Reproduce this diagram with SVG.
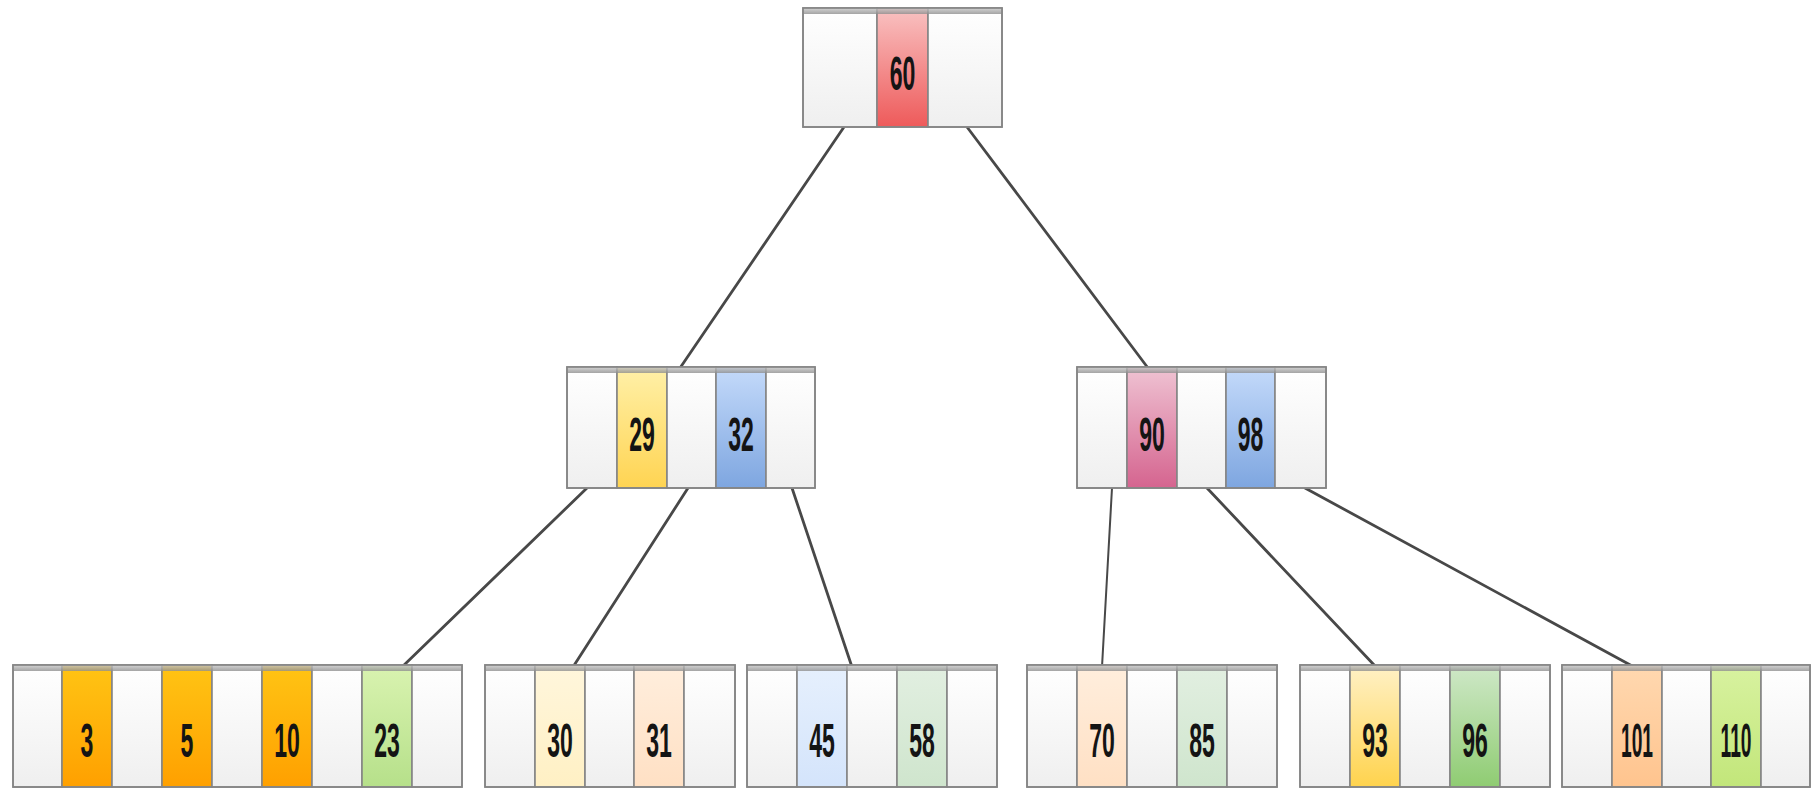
<svg xmlns="http://www.w3.org/2000/svg" width="1813" height="791" viewBox="0 0 1813 791">
  <defs>
    <linearGradient id="gEmpty" x1="0" y1="0" x2="0" y2="1">
      <stop offset="0" stop-color="#ffffff"/>
      <stop offset="1" stop-color="#efefef"/>
    </linearGradient>
    <linearGradient id="gBand" x1="0" y1="0" x2="0" y2="1">
      <stop offset="0" stop-color="#c8c8c8"/>
      <stop offset="1" stop-color="#8e8e8e"/>
    </linearGradient>
    <linearGradient id="gRed" x1="0" y1="0" x2="0" y2="1">
      <stop offset="0" stop-color="#f9c2c2"/>
      <stop offset="1" stop-color="#ee5a5a"/>
    </linearGradient>
    <linearGradient id="gGold" x1="0" y1="0" x2="0" y2="1">
      <stop offset="0" stop-color="#fff0a8"/>
      <stop offset="1" stop-color="#ffd452"/>
    </linearGradient>
    <linearGradient id="gBlue" x1="0" y1="0" x2="0" y2="1">
      <stop offset="0" stop-color="#c4dafa"/>
      <stop offset="1" stop-color="#7ea6e0"/>
    </linearGradient>
    <linearGradient id="gMauve" x1="0" y1="0" x2="0" y2="1">
      <stop offset="0" stop-color="#efc3d3"/>
      <stop offset="1" stop-color="#d5648f"/>
    </linearGradient>
    <linearGradient id="gOrange" x1="0" y1="0" x2="0" y2="1">
      <stop offset="0" stop-color="#ffc414"/>
      <stop offset="1" stop-color="#ffa000"/>
    </linearGradient>
    <linearGradient id="gLime" x1="0" y1="0" x2="0" y2="1">
      <stop offset="0" stop-color="#d9f3b0"/>
      <stop offset="1" stop-color="#b6e08a"/>
    </linearGradient>
    <linearGradient id="gPaleYellow" x1="0" y1="0" x2="0" y2="1">
      <stop offset="0" stop-color="#fff6dc"/>
      <stop offset="1" stop-color="#fff0c4"/>
    </linearGradient>
    <linearGradient id="gPalePeach" x1="0" y1="0" x2="0" y2="1">
      <stop offset="0" stop-color="#ffeedd"/>
      <stop offset="1" stop-color="#ffe0c4"/>
    </linearGradient>
    <linearGradient id="gPaleBlue" x1="0" y1="0" x2="0" y2="1">
      <stop offset="0" stop-color="#e6f0fd"/>
      <stop offset="1" stop-color="#d4e4fb"/>
    </linearGradient>
    <linearGradient id="gPaleGreen" x1="0" y1="0" x2="0" y2="1">
      <stop offset="0" stop-color="#e2efe1"/>
      <stop offset="1" stop-color="#cfe5cd"/>
    </linearGradient>
    <linearGradient id="gYellow" x1="0" y1="0" x2="0" y2="1">
      <stop offset="0" stop-color="#fff1c6"/>
      <stop offset="1" stop-color="#ffd34d"/>
    </linearGradient>
    <linearGradient id="gGreen" x1="0" y1="0" x2="0" y2="1">
      <stop offset="0" stop-color="#cfe8c8"/>
      <stop offset="1" stop-color="#8fcc72"/>
    </linearGradient>
    <linearGradient id="gApricot" x1="0" y1="0" x2="0" y2="1">
      <stop offset="0" stop-color="#ffd8b0"/>
      <stop offset="1" stop-color="#ffc48e"/>
    </linearGradient>
    <linearGradient id="gChartreuse" x1="0" y1="0" x2="0" y2="1">
      <stop offset="0" stop-color="#d8f2a0"/>
      <stop offset="1" stop-color="#c2e67a"/>
    </linearGradient>
  </defs>
  <style>
    .cell { stroke: #858585; stroke-width: 1.6; }
    .empty { fill: url(#gEmpty); }
    .band { fill: url(#gBand); opacity: 0.8; }
    .frame { fill: none; stroke: #858585; stroke-width: 1.6; }
    .key { font-family: "Liberation Sans", Arial, sans-serif; font-weight: bold; font-size: 48px; fill: #141414; text-anchor: middle; }
    .edge { stroke: #484848; stroke-width: 2.8; fill: none; stroke-linecap: round; }
  </style>

  <rect width="1813" height="791" fill="#ffffff"/>

  <!-- tree edges -->
  <g id="connectors">
    <line class="edge" x1="844" y1="127" x2="680" y2="368"/>
    <line class="edge" x1="967" y1="127" x2="1148" y2="368"/>
    <line class="edge" x1="587" y1="488" x2="402" y2="667"/>
    <line class="edge" x1="688" y1="488" x2="573" y2="667"/>
    <line class="edge" x1="792" y1="488" x2="852" y2="667"/>
    <line class="edge" x1="1112" y1="488" x2="1102" y2="667" style="stroke-width:2"/>
    <line class="edge" x1="1207" y1="488" x2="1376" y2="667"/>
    <line class="edge" x1="1305" y1="488" x2="1634" y2="667"/>
  </g>

  <!-- root -->
  <g id="node-60">
    <rect class="cell empty" x="803" y="8" width="74" height="119"/>
    <rect class="cell" fill="url(#gRed)" x="877" y="8" width="51" height="119"/>
    <rect class="cell empty" x="928" y="8" width="74" height="119"/>
    <rect class="band" x="803" y="8" width="199" height="6"/>
    <rect class="frame" x="803" y="8" width="199" height="119"/>
    <text class="key" transform="translate(902.5,90) scale(0.48,1)">60</text>
  </g>

  <!-- inner nodes -->
  <g id="node-29-32">
    <rect class="cell empty" x="567" y="367" width="50" height="121"/>
    <rect class="cell" fill="url(#gGold)" x="617" y="367" width="50" height="121"/>
    <rect class="cell empty" x="667" y="367" width="49" height="121"/>
    <rect class="cell" fill="url(#gBlue)" x="716" y="367" width="50" height="121"/>
    <rect class="cell empty" x="766" y="367" width="49" height="121"/>
    <rect class="band" x="567" y="367" width="248" height="6"/>
    <rect class="frame" x="567" y="367" width="248" height="121"/>
    <text class="key" transform="translate(642,451) scale(0.48,1)">29</text>
    <text class="key" transform="translate(741,451) scale(0.48,1)">32</text>
  </g>

  <g id="node-90-98">
    <rect class="cell empty" x="1077" y="367" width="50" height="121"/>
    <rect class="cell" fill="url(#gMauve)" x="1127" y="367" width="50" height="121"/>
    <rect class="cell empty" x="1177" y="367" width="49" height="121"/>
    <rect class="cell" fill="url(#gBlue)" x="1226" y="367" width="49" height="121"/>
    <rect class="cell empty" x="1275" y="367" width="51" height="121"/>
    <rect class="band" x="1077" y="367" width="249" height="6"/>
    <rect class="frame" x="1077" y="367" width="249" height="121"/>
    <text class="key" transform="translate(1152,451) scale(0.48,1)">90</text>
    <text class="key" transform="translate(1250.5,451) scale(0.48,1)">98</text>
  </g>

  <!-- leaves -->
  <g id="leaf-3-5-10-23">
    <rect class="cell empty" x="13" y="665" width="49" height="122"/>
    <rect class="cell" fill="url(#gOrange)" x="62" y="665" width="50" height="122"/>
    <rect class="cell empty" x="112" y="665" width="50" height="122"/>
    <rect class="cell" fill="url(#gOrange)" x="162" y="665" width="50" height="122"/>
    <rect class="cell empty" x="212" y="665" width="50" height="122"/>
    <rect class="cell" fill="url(#gOrange)" x="262" y="665" width="50" height="122"/>
    <rect class="cell empty" x="312" y="665" width="50" height="122"/>
    <rect class="cell" fill="url(#gLime)" x="362" y="665" width="50" height="122"/>
    <rect class="cell empty" x="412" y="665" width="50" height="122"/>
    <rect class="band" x="13" y="665" width="449" height="6"/>
    <rect class="frame" x="13" y="665" width="449" height="122"/>
    <text class="key" transform="translate(87,757) scale(0.48,1)">3</text>
    <text class="key" transform="translate(187,757) scale(0.48,1)">5</text>
    <text class="key" transform="translate(287,757) scale(0.48,1)">10</text>
    <text class="key" transform="translate(387,757) scale(0.48,1)">23</text>
  </g>

  <g id="leaf-30-31">
    <rect class="cell empty" x="485" y="665" width="50" height="122"/>
    <rect class="cell" fill="url(#gPaleYellow)" x="535" y="665" width="50" height="122"/>
    <rect class="cell empty" x="585" y="665" width="49" height="122"/>
    <rect class="cell" fill="url(#gPalePeach)" x="634" y="665" width="50" height="122"/>
    <rect class="cell empty" x="684" y="665" width="51" height="122"/>
    <rect class="band" x="485" y="665" width="250" height="6"/>
    <rect class="frame" x="485" y="665" width="250" height="122"/>
    <text class="key" transform="translate(560,757) scale(0.48,1)">30</text>
    <text class="key" transform="translate(659,757) scale(0.48,1)">31</text>
  </g>

  <g id="leaf-45-58">
    <rect class="cell empty" x="747" y="665" width="50" height="122"/>
    <rect class="cell" fill="url(#gPaleBlue)" x="797" y="665" width="50" height="122"/>
    <rect class="cell empty" x="847" y="665" width="50" height="122"/>
    <rect class="cell" fill="url(#gPaleGreen)" x="897" y="665" width="50" height="122"/>
    <rect class="cell empty" x="947" y="665" width="50" height="122"/>
    <rect class="band" x="747" y="665" width="250" height="6"/>
    <rect class="frame" x="747" y="665" width="250" height="122"/>
    <text class="key" transform="translate(822,757) scale(0.48,1)">45</text>
    <text class="key" transform="translate(922,757) scale(0.48,1)">58</text>
  </g>

  <g id="leaf-70-85">
    <rect class="cell empty" x="1027" y="665" width="50" height="122"/>
    <rect class="cell" fill="url(#gPalePeach)" x="1077" y="665" width="50" height="122"/>
    <rect class="cell empty" x="1127" y="665" width="50" height="122"/>
    <rect class="cell" fill="url(#gPaleGreen)" x="1177" y="665" width="50" height="122"/>
    <rect class="cell empty" x="1227" y="665" width="50" height="122"/>
    <rect class="band" x="1027" y="665" width="250" height="6"/>
    <rect class="frame" x="1027" y="665" width="250" height="122"/>
    <text class="key" transform="translate(1102,757) scale(0.48,1)">70</text>
    <text class="key" transform="translate(1202,757) scale(0.48,1)">85</text>
  </g>

  <g id="leaf-93-96">
    <rect class="cell empty" x="1300" y="665" width="50" height="122"/>
    <rect class="cell" fill="url(#gYellow)" x="1350" y="665" width="50" height="122"/>
    <rect class="cell empty" x="1400" y="665" width="50" height="122"/>
    <rect class="cell" fill="url(#gGreen)" x="1450" y="665" width="50" height="122"/>
    <rect class="cell empty" x="1500" y="665" width="50" height="122"/>
    <rect class="band" x="1300" y="665" width="250" height="6"/>
    <rect class="frame" x="1300" y="665" width="250" height="122"/>
    <text class="key" transform="translate(1375,757) scale(0.48,1)">93</text>
    <text class="key" transform="translate(1475,757) scale(0.48,1)">96</text>
  </g>

  <g id="leaf-101-110">
    <rect class="cell empty" x="1562" y="665" width="50" height="122"/>
    <rect class="cell" fill="url(#gApricot)" x="1612" y="665" width="50" height="122"/>
    <rect class="cell empty" x="1662" y="665" width="49" height="122"/>
    <rect class="cell" fill="url(#gChartreuse)" x="1711" y="665" width="50" height="122"/>
    <rect class="cell empty" x="1761" y="665" width="49" height="122"/>
    <rect class="band" x="1562" y="665" width="248" height="6"/>
    <rect class="frame" x="1562" y="665" width="248" height="122"/>
    <text class="key" transform="translate(1637,757) scale(0.4,1)">101</text>
    <text class="key" transform="translate(1736,757) scale(0.4,1)">110</text>
  </g>
</svg>
